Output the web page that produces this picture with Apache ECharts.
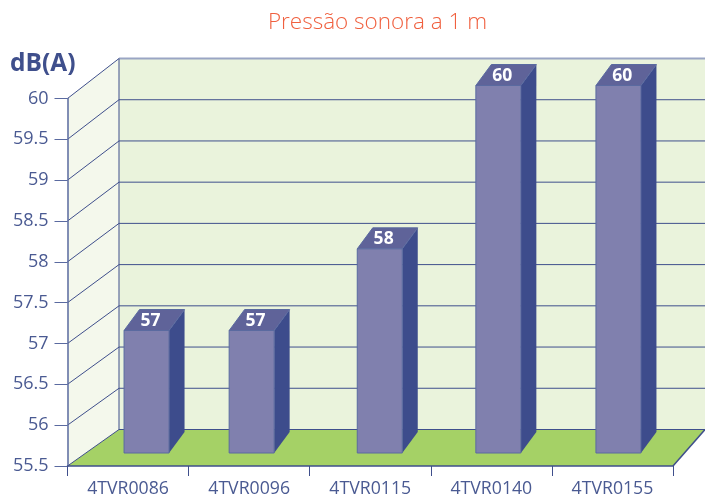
<!DOCTYPE html>
<html>
<head>
<meta charset="utf-8">
<title>Pressão sonora a 1 m</title>
<script src="https://cdn.jsdelivr.net/npm/echarts@6/dist/echarts.min.js"></script>
<style>
  html, body { margin: 0; padding: 0; background: #fff; }
  #chart { width: 705px; height: 496px; }
</style>
</head>
<body>
<div id="chart"></div>
<script>
  var categories = ['4TVR0086', '4TVR0096', '4TVR0115', '4TVR0140', '4TVR0155'];
  var noiseLevels = [57, 57, 58, 60, 60];
  var yTicks = [55.5, 56, 56.5, 57, 57.5, 58, 58.5, 59, 59.5, 60];

  var yMin = 55.5, yMax = 60;
  var FONT = '"Open Sans", "Noto Sans", sans-serif';
  var INK = '#3f4f8c';

  // the bars are not centred in their bands in the original
  var barShift = [18.5, 2.5, 9.5, 7, 6];
  var barWidth = 45;
  var barLift = 13;            // front of the bars sits behind the axis plane
  var barDepth = [15.5, -21];
  var wallDepthX = 51.5;

  // the back wall is a little taller than the front plane
  function wallDepthY(v) {
    return -36.5 - (v - yMin) / (yMax - yMin) * 3.5;
  }

  function renderWalls(params, api) {
    var lo = api.coord([0, yMin]), hi = api.coord([0, yMax]);
    var left = lo[0] - api.size([1, 0])[0] / 2;
    var right = left + api.size([1, 0])[0] * categories.length;
    var front = function (v) { return api.coord([0, v])[1]; };
    var backLeft = left + wallDepthX;
    var backRight = api.getWidth();
    var backTop = hi[1] + wallDepthY(yMax), backBottom = lo[1] + wallDepthY(yMin);

    var children = [
      { type: 'rect', shape: { x: backLeft, y: backTop, width: backRight - backLeft, height: backBottom - backTop },
        style: { fill: '#eaf3dc' } },
      { type: 'polygon', shape: { points: [[left, hi[1]], [backLeft, backTop], [backLeft, backBottom], [left, lo[1]]] },
        style: { fill: '#f4f8ec' } },
      { type: 'polygon', shape: { points: [[left, lo[1]], [right, lo[1]], [backRight, backBottom], [backLeft, backBottom]] },
        style: { fill: '#a5d166' } }
    ];

    yTicks.forEach(function (v) {
      var y = front(v), by = y + wallDepthY(v);
      children.push({ type: 'line', shape: { x1: left, y1: y, x2: backLeft, y2: by },
        style: { stroke: INK, lineWidth: 1 } });
      children.push({ type: 'line', shape: { x1: backLeft, y1: by, x2: backRight, y2: by },
        style: { stroke: v === yMax ? '#9aa5c4' : INK, lineWidth: v === yMax ? 2 : 1 } });
    });
    children.push({ type: 'line', shape: { x1: backLeft, y1: backTop, x2: backLeft, y2: backBottom },
      style: { stroke: INK, lineWidth: 1 } });
    children.push({ type: 'line', shape: { x1: right, y1: lo[1], x2: backRight, y2: backBottom },
      style: { stroke: INK, lineWidth: 1.5 } });

    return { type: 'group', children: children };
  }

  function renderBar(params, api) {
    var i = api.value(0), v = api.value(1);
    var top = api.coord([i, v]), base = api.coord([i, yMin]);
    var x0 = top[0] + barShift[i] - barWidth / 2, x1 = x0 + barWidth;
    var y0 = top[1] - barLift, y1 = base[1] - barLift;
    var dx = barDepth[0], dy = barDepth[1];
    var edge = '#5a6aa0';

    return {
      type: 'group',
      children: [
        { type: 'polygon', shape: { points: [[x1, y0], [x1 + dx, y0 + dy], [x1 + dx, y1 + dy], [x1, y1]] },
          style: { fill: '#3d4c8c' } },
        { type: 'polygon', shape: { points: [[x0, y0], [x0 + dx, y0 + dy], [x1 + dx, y0 + dy], [x1, y0]] },
          style: { fill: '#5f6399', stroke: edge, lineWidth: 1 } },
        { type: 'rect', shape: { x: x0, y: y0, width: barWidth, height: y1 - y0 },
          style: { fill: '#8080ae', stroke: edge, lineWidth: 1 } },
        { type: 'text', x: x0 + barWidth / 2 + dx / 4, y: y0 + dy / 2 + 1,
          style: { text: String(v), fill: '#fff', font: 'bold 17.5px ' + FONT, align: 'center', verticalAlign: 'middle' } }
      ]
    };
  }

  var chart = echarts.init(document.getElementById('chart'), null, { renderer: 'canvas' });
  chart.setOption({
    animation: false,
    title: [
      { text: 'Pressão sonora a 1 m', left: 372.5, top: 6, textAlign: 'center',
        textStyle: { fontFamily: FONT, fontSize: 22.5, fontWeight: 300, color: '#f0603f' } },
      { text: 'dB(A)', left: 5, top: 47,
        textStyle: { fontFamily: FONT, fontSize: 24.5, fontWeight: 700, color: '#3f4f8c' } }
    ],
    grid: { left: 67.5, right: 32, top: 98.5, bottom: 30, outerBoundsMode: 'none' },
    xAxis: {
      type: 'category',
      data: categories,
      z: 5,
      axisLine: { lineStyle: { color: INK, width: 1.5 } },
      axisTick: { show: true, length: 10, alignWithLabel: false, lineStyle: { color: INK, width: 1 } },
      axisLabel: { interval: 0, margin: 14, fontFamily: FONT, fontSize: 17.7, color: '#4a5a92' }
    },
    yAxis: {
      type: 'value',
      min: yMin,
      max: yMax,
      interval: 0.5,
      z: 5,
      splitLine: { show: false },
      axisLine: { show: true, lineStyle: { color: '#5a6aa0', width: 1.5 } },
      axisTick: { show: true, length: 13, lineStyle: { color: '#5a6aa0', width: 1 } },
      axisLabel: { margin: 19, padding: [7, 0, 0, 0], fontFamily: FONT, fontSize: 18, color: '#4a5a92' }
    },
    series: [
      { type: 'custom', name: 'walls', renderItem: renderWalls, data: [[0, yMin]], z: 1, silent: true },
      { type: 'custom', name: 'Pressão sonora', renderItem: renderBar, z: 2,
        data: noiseLevels.map(function (v, i) { return [i, v]; }) }
    ]
  });
</script>
</body>
</html>
